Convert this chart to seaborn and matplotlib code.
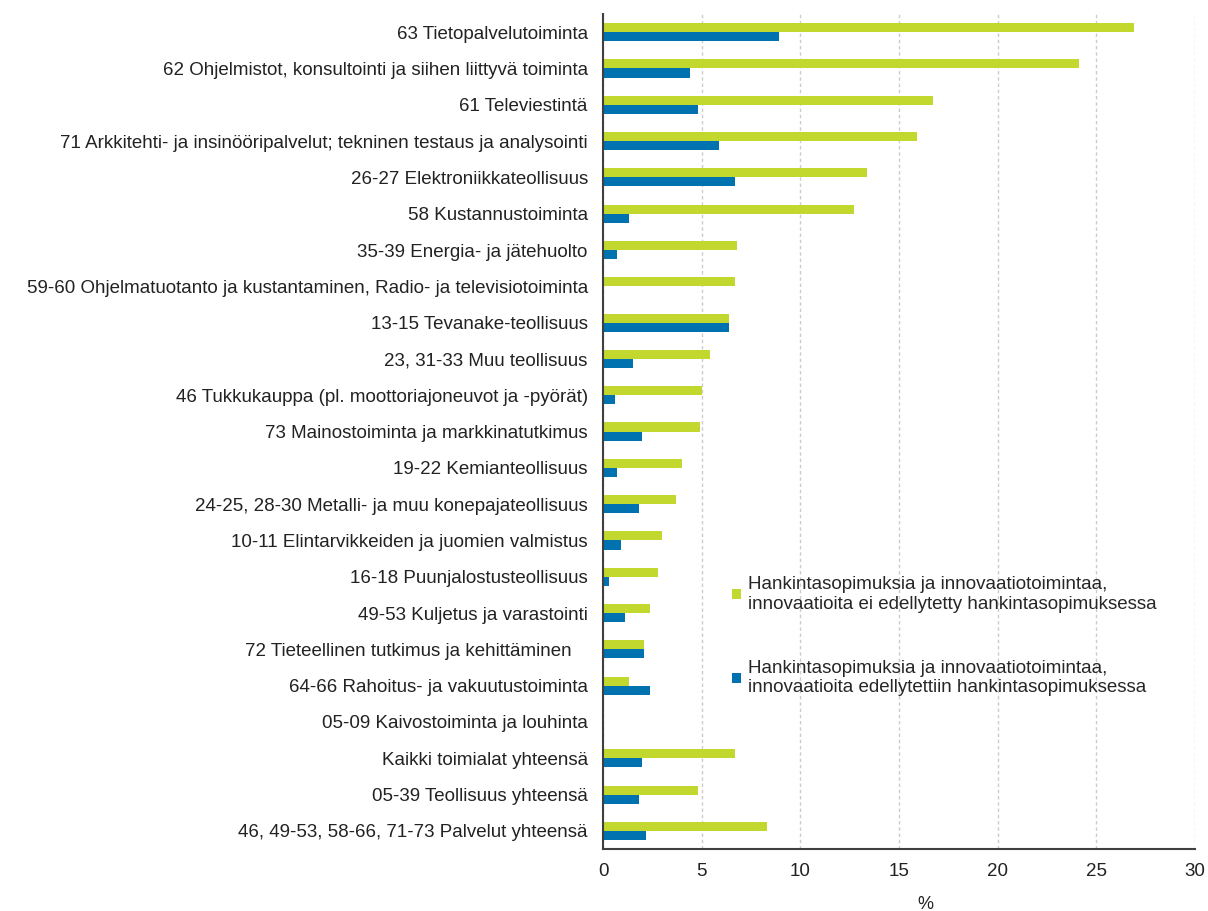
import matplotlib
matplotlib.use("Agg")
from matplotlib import pyplot as plt
import seaborn as sns
import numpy as np
import pandas as pd

# toimialat ylhäältä alas
toimialat = [
    "63 Tietopalvelutoiminta",
    "62 Ohjelmistot, konsultointi ja siihen liittyvä toiminta",
    "61 Televiestintä",
    "71 Arkkitehti- ja insinööripalvelut; tekninen testaus ja analysointi",
    "26-27 Elektroniikkateollisuus",
    "58 Kustannustoiminta",
    "35-39 Energia- ja jätehuolto",
    "59-60 Ohjelmatuotanto ja kustantaminen, Radio- ja televisiotoiminta",
    "13-15 Tevanake-teollisuus",
    "23, 31-33 Muu teollisuus",
    "46 Tukkukauppa (pl. moottoriajoneuvot ja -pyörät)",
    "73 Mainostoiminta ja markkinatutkimus",
    "19-22 Kemianteollisuus",
    "24-25, 28-30 Metalli- ja muu konepajateollisuus",
    "10-11 Elintarvikkeiden ja juomien valmistus",
    "16-18 Puunjalostusteollisuus",
    "49-53 Kuljetus ja varastointi",
    "72 Tieteellinen tutkimus ja kehittäminen   ",
    "64-66 Rahoitus- ja vakuutustoiminta",
    "05-09 Kaivostoiminta ja louhinta",
    "Kaikki toimialat yhteensä",
    "05-39 Teollisuus yhteensä",
    "46, 49-53, 58-66, 71-73 Palvelut yhteensä",
]

# innovaatioita ei edellytetty (vihreä)
ei_edellytetty = [26.9, 24.1, 16.7, 15.9, 13.4, 12.7, 6.8, 6.7, 6.4, 5.4,
                  5.0, 4.9, 4.0, 3.7, 3.0, 2.8, 2.4, 2.1, 1.3, np.nan,
                  6.7, 4.8, 8.3]
# innovaatioita edellytettiin (sininen)
edellytettiin = [8.9, 4.4, 4.8, 5.9, 6.7, 1.3, 0.7, np.nan, 6.4, 1.5,
                 0.6, 2.0, 0.7, 1.8, 0.9, 0.3, 1.1, 2.1, 2.4, np.nan,
                 2.0, 1.8, 2.2]

sarjat = [
    "Hankintasopimuksia ja innovaatiotoimintaa,\ninnovaatioita ei edellytetty hankintasopimuksessa",
    "Hankintasopimuksia ja innovaatiotoimintaa,\ninnovaatioita edellytettiin hankintasopimuksessa",
]
vari = ["#c3d82e", "#0072b0"]

df = pd.DataFrame({
    "toimiala": toimialat * 2,
    "osuus": ei_edellytetty + edellytettiin,
    "sarja": [sarjat[0]] * len(toimialat) + [sarjat[1]] * len(toimialat),
})

sns.set_style("white")
plt.rcParams["font.family"] = ["Liberation Sans", "DejaVu Sans"]

fig = plt.figure(figsize=(12.08, 9.11), dpi=100)
ax = fig.add_axes([0.4992, 0.068, 0.49, 0.9166])

sns.barplot(data=df, y="toimiala", x="osuus", hue="sarja", order=toimialat,
            hue_order=sarjat, palette=vari, saturation=1, orient="h", width=0.5,
            errorbar=None, linewidth=0, ax=ax)

ax.set_xlim(0, 30)
ax.set_xticks(range(0, 31, 5))
ax.grid(axis="x", color="#cccccc", linestyle=(0, (2.5, 2)), linewidth=1)
ax.set_axisbelow(True)
for s in ["top", "right"]:
    ax.spines[s].set_visible(False)
for s in ["left", "bottom"]:
    ax.spines[s].set_color("#404040")
    ax.spines[s].set_linewidth(1.5)
ax.tick_params(axis="both", length=0, labelsize=13.5, colors="#222222")
ax.tick_params(axis="x", pad=10)
ax.tick_params(axis="y", pad=11)
ax.set_ylabel("")
ax.set_xlabel("%", size=13, color="#222222", va="top")
ax.xaxis.set_label_coords(0.545, -0.056)

ax.legend(loc="upper left", bbox_to_anchor=(0.19, 0.347), frameon=False,
          fontsize=13.5, labelspacing=2.5, handlelength=0.45, handleheight=0.45,
          handletextpad=0.4)

fig.savefig("out.png", dpi=100)
